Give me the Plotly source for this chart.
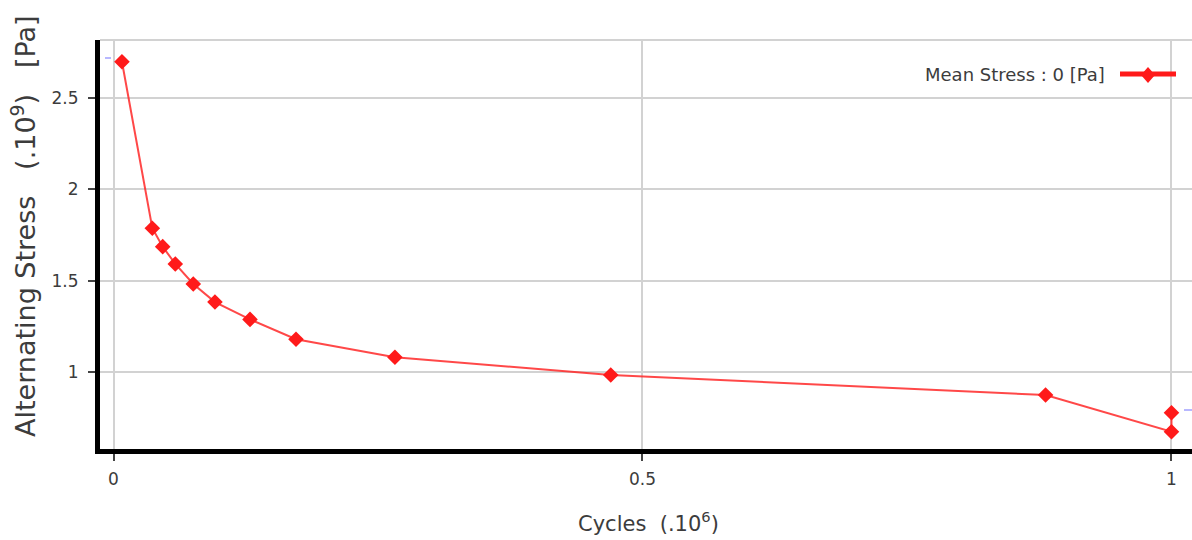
import plotly.graph_objects as go

# Data (cycles in units of 1e6, alternating stress in units of 1e9 Pa)
cycles = [0.008, 0.0367, 0.0465, 0.0584, 0.0754, 0.0959, 0.129, 0.1725, 0.266, 0.470, 0.881, 1.0, 1.0]
stress = [2.700, 1.787, 1.686, 1.591, 1.481, 1.382, 1.287, 1.178, 1.079, 0.982, 0.872, 0.671, 0.775]
series_name = "Mean Stress : 0 [Pa]"
x_ticks = [0, 0.5, 1]
x_ticklabels = ["0", "0.5", "1"]
y_ticks = [1, 1.5, 2, 2.5]
y_ticklabels = ["1", "1.5", "2", "2.5"]

RED = "#ff1a1a"
TXT = "#3c3c3c"
GRID = "#d2d2d2"
FONT = "DejaVu Sans"

W, H = 1192, 540
ML, MT, MB = 100, 40, 91
PW, PH = W - ML, H - MT - MB


def px(x):
    return (x - ML) / PW


def py(y):
    return (H - MB - y) / PH


fig = go.Figure()
fig.add_trace(go.Scatter(
    x=cycles, y=stress, mode="lines+markers", name=series_name,
    line=dict(color="rgba(255,40,40,0.85)", width=2),
    marker=dict(symbol="diamond", size=12, color=RED),
    showlegend=False,
))

NB = "\u00a0"
ytitle = f"Alternating Stress{NB*3}(.10<sup>9</sup>){NB*3}[Pa]"

fig.update_layout(
    width=W, height=H,
    margin=dict(l=ML, r=0, t=MT, b=MB),
    paper_bgcolor="white", plot_bgcolor="white",
    font=dict(family=FONT, color=TXT, size=17),
    xaxis=dict(
        range=[-0.01276, 1.0194], tickvals=x_ticks, ticktext=x_ticklabels,
        showgrid=True, gridcolor=GRID, gridwidth=2, zeroline=False,
        showline=True, linecolor="black", linewidth=5,
        ticks="outside", ticklen=7, tickcolor="#444", tickwidth=1.5,
        ticklabelstandoff=4,
        tickfont=dict(size=17, color=TXT, family=FONT),
    ),
    yaxis=dict(
        range=[0.576, 2.8195], tickvals=y_ticks, ticktext=y_ticklabels,
        showgrid=True, gridcolor=GRID, gridwidth=2, zeroline=False,
        showline=True, linecolor="black", linewidth=5,
        ticks="outside", ticklen=7, tickcolor="#444", tickwidth=1.5,
        ticklabelstandoff=6,
        tickfont=dict(size=17, color=TXT, family=FONT),
    ),
    shapes=[
        # top border line
        dict(type="line", xref="paper", yref="paper", x0=0, x1=1, y0=1, y1=1,
             line=dict(color=GRID, width=2)),
        # legend sample line
        dict(type="line", xref="paper", yref="paper",
             x0=px(1120), x1=px(1176), y0=py(74), y1=py(74),
             line=dict(color=RED, width=5)),
        # small blue edge markers
        dict(type="line", xref="paper", yref="paper",
             x0=px(105), x1=px(111), y0=py(58), y1=py(58),
             line=dict(color="#b8b8ff", width=2)),
        dict(type="line", xref="paper", yref="paper",
             x0=px(1184), x1=px(1192), y0=py(410), y1=py(410),
             line=dict(color="#b8b8ff", width=2)),
    ],
    annotations=[
        dict(text=ytitle, xref="paper", yref="paper",
             x=px(23), y=py(226), xanchor="center", yanchor="middle",
             textangle=-90, showarrow=False, font=dict(size=27, color=TXT, family=FONT)),
        dict(text="Cycles  (.10<sup>6</sup>)", xref="paper", yref="paper",
             x=px(648), y=py(522), xanchor="center", yanchor="middle",
             showarrow=False, font=dict(size=21, color=TXT, family=FONT)),
        dict(text=series_name, xref="paper", yref="paper",
             x=px(1107), y=py(74), xanchor="right", yanchor="middle",
             showarrow=False, font=dict(size=18, color=TXT, family=FONT)),
    ],
)

# legend sample marker (diamond)
cx, cy = px(1148), py(75)
dx, dy = 7 / PW, 8 / PH
fig.add_shape(type="path", xref="paper", yref="paper",
              path=f"M {cx-dx} {cy} L {cx} {cy+dy} L {cx+dx} {cy} L {cx} {cy-dy} Z",
              fillcolor=RED, line=dict(color=RED, width=0))

fig.write_html("out.html")
